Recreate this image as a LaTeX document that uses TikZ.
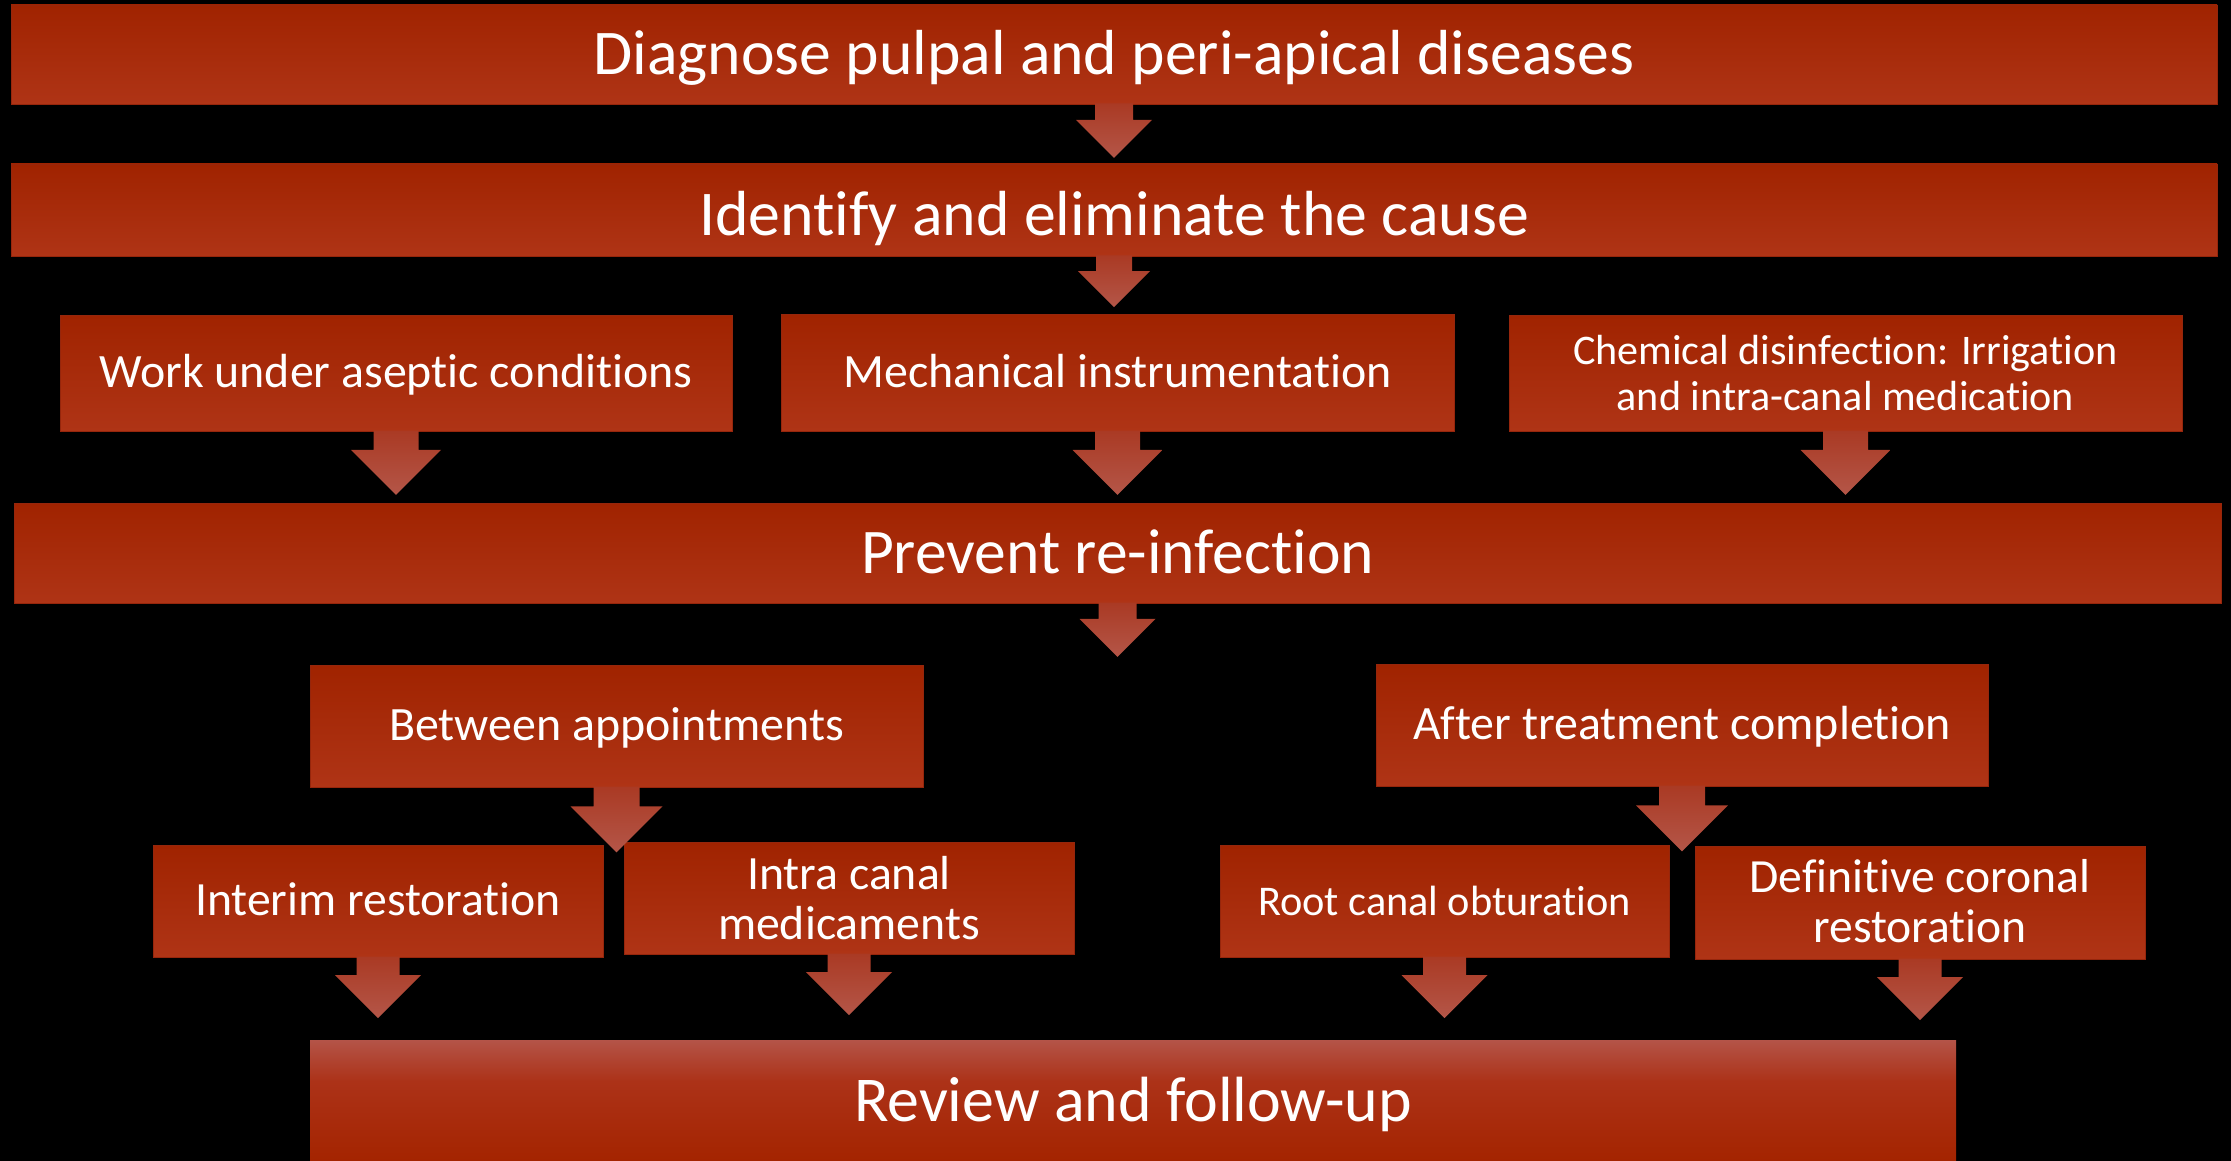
\documentclass[tikz,border=0pt]{standalone}
\usepackage{fontspec}
\setmainfont{Carlito}[Ligatures={NoCommon}]
\usetikzlibrary{calc}
\definecolor{boxtop}{RGB}{160,35,0}
\definecolor{boxbot}{RGB}{175,52,22}
\definecolor{boxedge}{RGB}{150,38,12}
\definecolor{arrtop}{RGB}{170,58,36}
\definecolor{arrbot}{RGB}{180,86,72}
\definecolor{revtop}{RGB}{180,84,72}
\definecolor{revmid}{RGB}{172,50,24}
\definecolor{revbot}{RGB}{164,36,0}
\pgfdeclareverticalshading{reviewshade}{100bp}{color(0bp)=(revbot); color(25bp)=(revbot); color(58bp)=(revmid); color(75bp)=(revtop); color(100bp)=(revtop)}
\newlength\fitw
\newcommand\fitfont[3]{%
  \settowidth\fitw{\fontsize{10}{12}\selectfont #2}%
  \pgfmathsetmacro\fitsize{10*#1/\fitw}%
  \pgfmathsetmacro\fitskip{#3*\fitsize}%
  \fontsize{\fitsize}{\fitskip}\selectfont}
\tikzset{
  flowbox/.style={rectangle, inner sep=0pt, outer sep=0pt, top color=boxtop, bottom color=boxbot,
    draw=boxedge, line width=0.8pt, text=white, align=center},
  bigline/.style={text height=41pt, text depth=0pt},
  smallline/.style={text height=29pt, text depth=0pt},
  arrowfill/.style={top color=arrtop, bottom color=arrbot, draw=none},
}
\newcommand\blockarrow[2]{%
  \path[arrowfill] (#1.south) ++({-0.5*#2},-0.5) -- ++(0,{0.42*#2+0.5}) -- ++({-0.5*#2},0)
    -- ++({#2},{#2}) -- ++({#2},{-#2}) -- ++({-0.5*#2},0) -- ++(0,{-0.42*#2-0.5}) -- cycle;}
\begin{document}
\begin{tikzpicture}[x=1pt,y=-1pt]
\fill[black] (0,0) rectangle (2231,1161);
\useasboundingbox (0,0) rectangle (2231,1161);

\node[flowbox, bigline, minimum width=2206, minimum height=99,
  font=\fitfont{1041}{Diagnose pulpal and peri-apical diseases}{1.2}]
  (diag) at (1114,54.5) {Diagnose pulpal and peri-apical diseases};
\node[flowbox, text height=51pt, text depth=0pt, minimum width=2206, minimum height=92,
  font=\fitfont{830}{Identify and eliminate the cause}{1.2}]
  (ident) at (1114,210) {Identify and eliminate the cause};

\node[flowbox, smallline, minimum width=672, minimum height=116,
  font=\fitfont{593}{Work under aseptic conditions}{1.2}]
  (work) at (396,373) {Work under aseptic conditions};
\node[flowbox, smallline, minimum width=673, minimum height=117,
  font=\fitfont{548}{Mechanical instrumentation}{1.2}]
  (mech) at (1117.5,372.5) {Mechanical instrumentation};
\node[flowbox, minimum width=673, minimum height=116,
  font=\fitfont{545}{Chemical disinfection: Irrigation}{1.07}]
  (chem) at (1845.5,373) {Chemical disinfection: Irrigation\\and intra-canal medication};

\node[flowbox, bigline, minimum width=2207, minimum height=100,
  font=\fitfont{513}{Prevent re-infection}{1.2}]
  (prev) at (1117.5,553) {Prevent re-infection};

\node[flowbox, smallline, minimum width=613, minimum height=122,
  font=\fitfont{455}{Between appointments}{1.2}]
  (betw) at (616.5,726) {Between appointments};
\node[flowbox, smallline, minimum width=612, minimum height=122,
  font=\fitfont{538}{After treatment completion}{1.2}]
  (after) at (1682,725) {After treatment completion};

\node[flowbox, smallline, minimum width=450, minimum height=112,
  font=\fitfont{366}{Interim restoration}{1.2}]
  (interim) at (378,901) {Interim restoration};
\node[flowbox, minimum width=450, minimum height=112,
  font=\fitfont{262}{medicaments}{1.05}]
  (intra) at (849,898) {Intra canal\\medicaments};
\node[flowbox, smallline, minimum width=449, minimum height=112,
  font=\fitfont{373}{Root canal obturation}{1.2}]
  (root) at (1444.5,901) {Root canal obturation};
\node[flowbox, text depth=3pt, minimum width=450, minimum height=113,
  font=\fitfont{341}{Definitive coronal}{1.05}]
  (defin) at (1920,902.5) {Definitive coronal\\restoration};

\node[flowbox, bigline, shading=reviewshade, draw=none, minimum width=1646, minimum height=121,
  font=\fitfont{558}{Review and follow-up}{1.2}]
  (review) at (1133,1100.5) {Review and follow-up};

\blockarrow{diag}{38}
\blockarrow{ident}{36}
\blockarrow{work}{45}
\blockarrow{mech}{45}
\blockarrow{chem}{45}
\blockarrow{prev}{38}
\blockarrow{betw}{46}
\blockarrow{after}{46}
\blockarrow{interim}{43}
\blockarrow{intra}{43}
\blockarrow{root}{43}
\blockarrow{defin}{43}
\end{tikzpicture}
\end{document}
